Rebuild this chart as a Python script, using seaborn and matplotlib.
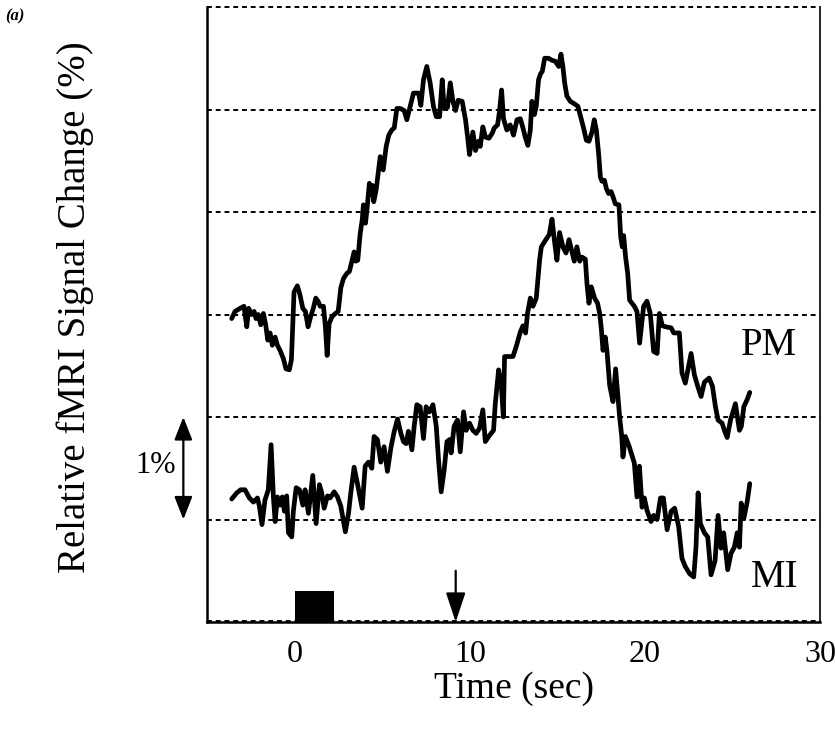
import numpy as np
import pandas as pd
import matplotlib
matplotlib.use("Agg")
import matplotlib.pyplot as plt
import seaborn as sns

# time courses (seconds, % signal change)
pm_time = [-3.59, -3.40, -3.11, -2.89, -2.73, -2.62, -2.45, -2.31, -2.20, -2.07, -1.93, -1.78, -1.65,
           -1.53, -1.40, -1.27, -1.11, -0.98, -0.83, -0.64, -0.49, -0.30, -0.18, -0.03, 0.16, 0.31,
           0.47, 0.62, 0.77, 0.92, 1.07, 1.21, 1.34, 1.46, 1.65, 1.76, 1.86, 1.97, 2.14, 2.33, 2.49,
           2.64, 2.79, 2.98, 3.13, 3.29, 3.40, 3.50, 3.61, 3.74, 3.86, 3.93, 4.05, 4.16, 4.27, 4.36,
           4.44, 4.52, 4.66, 4.89, 5.00, 5.06, 5.23, 5.38, 5.55, 5.69, 5.84, 6.03, 6.26, 6.41, 6.64,
           6.79, 7.08, 7.21, 7.36, 7.55, 7.74, 7.93, 8.09, 8.28, 8.43, 8.54, 8.73, 8.89, 9.04, 9.19,
           9.34, 9.57, 9.76, 9.88, 9.99, 10.18, 10.33, 10.49, 10.60, 10.75, 10.90, 11.10, 11.29,
           11.40, 11.59, 11.70, 11.82, 11.93, 12.12, 12.31, 12.50, 12.70, 12.89, 13.04, 13.17, 13.32,
           13.46, 13.55, 13.69, 13.80, 13.93, 14.05, 14.14, 14.28, 14.50, 14.70, 14.89, 15.08, 15.21,
           15.32, 15.42, 15.55, 15.74, 16.03, 16.18, 16.35, 16.50, 16.66, 16.81, 16.98, 17.11, 17.23,
           17.36, 17.46, 17.55, 17.69, 17.80, 17.93, 18.07, 18.18, 18.31, 18.52, 18.62, 18.71, 18.79,
           18.90, 19.02, 19.13, 19.40, 19.55, 19.70, 19.93, 20.12, 20.31, 20.50, 20.70, 20.83, 21.00,
           21.19, 21.50, 21.65, 21.97, 22.12, 22.31, 22.64, 22.83, 23.02, 23.21, 23.40, 23.67, 23.86,
           24.03, 24.18, 24.41, 24.54, 24.70, 24.89, 25.17, 25.40, 25.51, 25.65, 25.84, 25.99]
pm_signal = [2.96, 3.03, 3.06, 3.08, 2.88, 3.06, 3.00, 3.03, 2.96, 3.00, 2.90, 3.01, 2.90,
             2.75, 2.82, 2.70, 2.78, 2.70, 2.65, 2.57, 2.47, 2.46, 2.56, 3.22, 3.28, 3.19,
             3.06, 3.03, 2.88, 2.98, 3.06, 3.16, 3.13, 3.08, 3.08, 2.88, 2.60, 2.91, 2.98, 3.01, 3.03,
             3.26, 3.35, 3.40, 3.42, 3.53, 3.61, 3.52, 3.53, 3.78, 3.92, 4.07, 3.89, 4.07, 4.28, 4.17,
             4.26, 4.10, 4.22, 4.54, 4.43, 4.41, 4.64, 4.75, 4.80, 4.82, 5.01, 5.01, 4.99, 4.90, 5.06,
             5.16, 5.16, 5.04, 5.29, 5.42, 5.26, 5.03, 4.93, 4.93, 5.29, 5.01, 5.02, 5.26, 5.08, 4.99,
             5.09, 5.08, 4.90, 4.73, 4.56, 4.78, 4.60, 4.69, 4.64, 4.83, 4.73, 4.72, 4.77,
             4.82, 4.85, 4.98, 5.19, 4.91, 4.80, 4.85, 4.75, 4.90, 4.91, 4.82, 4.73, 4.65,
             4.80, 5.08, 4.95, 5.03, 5.29, 5.35, 5.37, 5.50, 5.50, 5.48, 5.47, 5.42, 5.54,
             5.42, 5.26, 5.13, 5.08, 5.05, 5.03, 4.92, 4.82, 4.70, 4.69, 4.78, 4.90, 4.80,
             4.57, 4.34, 4.30, 4.31, 4.23, 4.18, 4.20, 4.15, 4.08, 4.07, 3.76, 3.66, 3.77,
             3.56, 3.40, 3.14, 3.08, 3.03, 2.72, 3.08, 3.13, 3.01, 2.64, 2.62, 3.01, 2.89,
             2.88, 2.87, 2.82, 2.82, 2.43, 2.33, 2.62, 2.41, 2.30, 2.20, 2.34, 2.38, 2.30,
             2.10, 1.97, 1.94, 1.87, 1.80, 1.97, 2.13, 1.87, 1.91, 2.10, 2.17, 2.24]

mi_time = [-3.59, -3.30, -3.08, -2.83, -2.58, -2.35, -2.12, -2.01, -1.86, -1.69, -1.50, -1.34, -1.21,
           -1.11, -0.98, -0.83, -0.70, -0.58, -0.45, -0.35, -0.16, -0.07, 0.09, 0.28, 0.47, 0.60,
           0.79, 1.04, 1.23, 1.42, 1.55, 1.69, 1.88, 2.03, 2.26, 2.45, 2.64, 2.90, 3.08, 3.21, 3.40,
           3.59, 3.86, 4.03, 4.22, 4.41, 4.54, 4.73, 4.92, 5.11, 5.30, 5.50, 5.69, 5.88, 6.07, 6.22,
           6.37, 6.50, 6.70, 6.83, 6.98, 7.17, 7.36, 7.51, 7.70, 7.90, 8.09, 8.22, 8.37, 8.54, 8.70,
           8.85, 8.94, 9.11, 9.30, 9.46, 9.65, 9.80, 9.99, 10.18, 10.37, 10.56, 10.75, 10.89, 11.13,
           11.36, 11.46, 11.65, 11.80, 11.92, 11.99, 12.47, 12.66, 12.89, 13.04, 13.19, 13.30, 13.46,
           13.61, 13.80, 13.99, 14.09, 14.31, 14.54, 14.70, 14.83, 14.98, 15.13, 15.32, 15.50, 15.67,
           15.84, 15.97, 16.12, 16.28, 16.41, 16.60, 16.70, 16.81, 16.94, 17.13, 17.30, 17.42, 17.51,
           17.61, 17.74, 17.84, 17.99, 18.18, 18.33, 18.45, 18.56, 18.68, 18.75, 18.89, 19.11, 19.40,
           19.55, 19.69, 19.84, 19.97, 20.12, 20.35, 20.50, 20.70, 20.89, 21.06, 21.27, 21.50, 21.70,
           21.93, 22.12, 22.31, 22.56, 22.79, 22.92, 23.04, 23.17, 23.40, 23.59, 23.78, 24.01, 24.18,
           24.35, 24.50, 24.73, 24.92, 25.11, 25.27, 25.40, 25.50, 25.65, 25.84, 25.99]
mi_signal = [1.20, 1.26, 1.29, 1.29, 1.21, 1.17, 1.21, 1.13, 0.95, 1.19, 1.29, 1.73, 1.22,
             0.98, 1.22, 1.14, 1.22, 1.08, 1.23, 0.87, 0.83, 1.08, 1.31, 1.29, 1.14, 1.29,
             1.06, 1.43, 0.96, 1.34, 1.26, 1.11, 1.23, 1.21, 1.27, 1.22, 1.13, 0.88, 1.06, 1.26, 1.51,
             1.35, 1.11, 1.52, 1.56, 1.50, 1.81, 1.78, 1.56, 1.71, 1.47, 1.70, 1.86, 1.98, 1.84, 1.76,
             1.74, 1.86, 1.68, 1.91, 2.12, 2.10, 1.79, 2.10, 2.05, 2.12, 1.91, 1.58, 1.27, 1.48, 1.76,
             1.78, 1.65, 1.91, 1.97, 1.66, 2.05, 1.87, 1.94, 1.87, 1.84, 1.89, 2.07, 1.76, 1.82,
             1.87, 2.13, 2.46, 2.32, 2.00, 2.59, 2.59, 2.69, 2.83, 2.89, 2.82, 3.01, 3.16,
             3.08, 3.16, 3.53, 3.66, 3.72, 3.78, 3.93, 3.73, 3.53, 3.80, 3.66, 3.60, 3.73,
             3.61, 3.52, 3.66, 3.52, 3.56, 3.54, 3.29, 3.11, 3.27, 3.16, 3.11, 3.01, 2.87,
             2.65, 2.78, 2.64, 2.31, 2.15, 2.47, 2.23, 2.00, 1.81, 1.61, 1.81, 1.71, 1.55,
             1.22, 1.52, 1.12, 1.21, 1.09, 0.98, 1.04, 1.00, 1.21, 1.21, 0.90, 1.08, 1.11,
             0.93, 0.62, 0.54, 0.47, 0.44, 0.73, 1.26, 0.96, 0.87, 0.83, 0.46, 0.60, 1.04,
             0.72, 0.87, 0.51, 0.67, 0.73, 0.87, 0.73, 1.16, 1.01, 1.17, 1.35]

# stimulus block and response marker
stim_on, stim_off, stim_height = 0.0, 2.25, 0.3
marker_time, marker_top = 9.2, 0.5
x_ticks = [-5, 0, 5, 10, 15, 20, 25, 30]
x_ticklabels = ["", "0", "", "10", "", "20", "", "30"]

sns.set_style("white")
plt.rcParams["font.family"] = ["Liberation Serif", "DejaVu Serif"]
plt.rcParams["text.color"] = "black"
plt.rcParams["axes.labelcolor"] = "black"
plt.rcParams["xtick.color"] = "black"
plt.rcParams["ytick.color"] = "black"

fig = plt.figure(figsize=(8.35, 7.38), dpi=100)
ax = fig.add_axes([207 / 835, 1 - 622 / 738, 613 / 835, 615 / 738])

df_pm = pd.DataFrame({"time": pm_time, "signal": pm_signal})
df_mi = pd.DataFrame({"time": mi_time, "signal": mi_signal})
sns.lineplot(data=df_pm, x="time", y="signal", color="black", lw=3.4, sort=False, ax=ax, zorder=3)
sns.lineplot(data=df_mi, x="time", y="signal", color="black", lw=3.4, sort=False, ax=ax, zorder=3)

ax.set_xlim(-5, 30)
ax.set_ylim(0, 6)

# dotted reference lines at each 1 %
for lvl in range(0, 7):
    ax.axhline(lvl + (0.012 if lvl == 0 else 0), color="black", lw=1.4, ls=(0, (2.5, 2)),
               zorder=1, clip_on=False)

# stimulus block and arrow
ax.fill_between([stim_on, stim_off], 0, stim_height, color="black", lw=0, zorder=2)
ax.annotate("", xy=(marker_time, 0), xytext=(marker_time, marker_top),
            arrowprops=dict(arrowstyle="-|>,head_length=1.8,head_width=0.6", color="black", lw=1.6,
                            shrinkA=0, shrinkB=0))

# curve names
ax.text(27.1, 2.70, "PM", fontsize=28, ha="center", va="center")
ax.text(27.4, 0.43, "MI", fontsize=28, ha="center", va="center")

# scale bar: 1 %
ax.annotate("", xy=(-6.35, 1.0), xytext=(-6.35, 2.0), annotation_clip=False,
            arrowprops=dict(arrowstyle="<|-|>,head_length=1.4,head_width=0.55", color="black", lw=1.6,
                            shrinkA=0, shrinkB=0))
ax.text(-7.95, 1.53, "1%", fontsize=22, ha="center", va="center", clip_on=False)

# axes styling
for side in ["left", "bottom"]:
    ax.spines[side].set_linewidth(1.8)
    ax.spines[side].set_color("black")
ax.spines["right"].set_linewidth(1.2)
ax.spines["right"].set_color("black")
ax.spines["top"].set_visible(False)

ax.set_xticks(x_ticks)
ax.set_xticklabels(x_ticklabels)
ax.set_yticks(range(0, 7))
ax.set_yticklabels([])
ax.tick_params(axis="x", direction="out", length=7, width=1.5, labelsize=23, pad=6)
ax.tick_params(axis="y", direction="inout", length=9, width=1.3)

ax.set_xlabel("Time (sec)", fontsize=27, labelpad=2)
ax.set_ylabel("Relative fMRI Signal Change (%)", fontsize=28)
ax.yaxis.set_label_coords(-0.185, 0.512)

fig.text(5 / 835, 1 - 16 / 738, "(a)", fontsize=12, fontweight="bold", fontstyle="italic",
         ha="left", va="center")

fig.savefig("out.png", dpi=100, facecolor="white")
